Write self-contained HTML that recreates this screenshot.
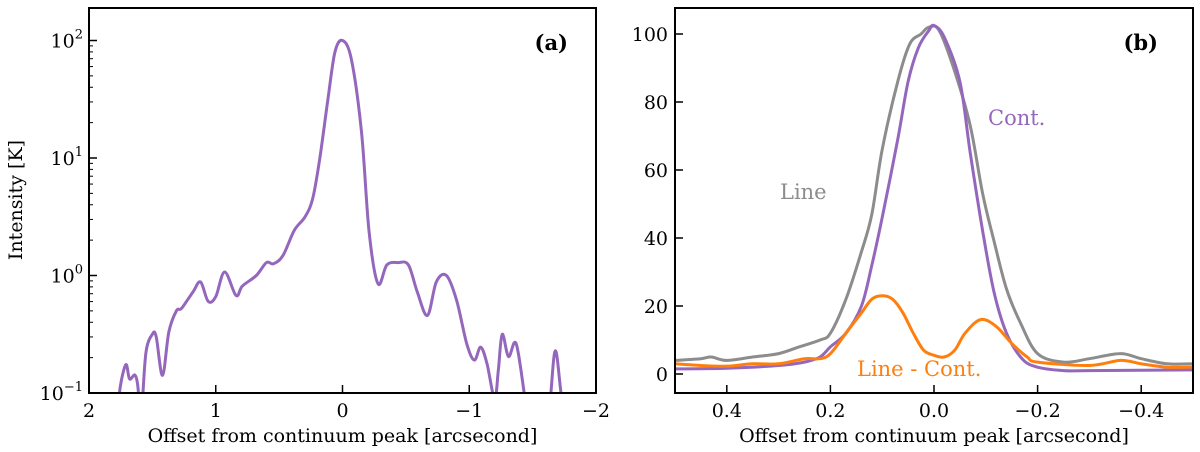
<!DOCTYPE html>
<html><head><meta charset="utf-8">
<style>
html,body{margin:0;padding:0;background:#fff;}
svg{display:block;font-family:"DejaVu Serif","Liberation Serif",serif;}
</style></head>
<body>
<svg id="fig" width="1200" height="452" viewBox="0 0 1200 452">
<g id="pa"></g>
<g id="pb"></g>
</svg>
<script>
// Panel (a) data: offset [arcsec], log10 intensity
const aX = [1.78,1.76,1.71,1.68,1.635,1.61,1.6,1.58,1.55,1.5,1.47,1.42,1.37,1.31,1.27,1.18,1.12,1.06,1.0,0.93,0.84,0.79,0.68,0.60,0.545,0.47,0.38,0.295,0.235,0.18,0.115,0.06,0,-0.07,-0.15,-0.21,-0.28,-0.35,-0.44,-0.52,-0.59,-0.67,-0.74,-0.82,-0.9,-0.98,-1.04,-1.09,-1.14,-1.2,-1.23,-1.26,-1.31,-1.37,-1.44,-1.5,-1.6,-1.64,-1.68,-1.73,-1.8,-1.85];
const aLog = [-1.4,-1.0,-0.76,-0.88,-0.85,-1.0,-1.4,-1.1,-0.65,-0.5,-0.52,-0.85,-0.48,-0.3,-0.28,-0.14,-0.055,-0.22,-0.18,0.03,-0.17,-0.09,0.0,0.11,0.1,0.17,0.385,0.5,0.655,0.99,1.5,1.9,2.0,1.84,1.22,0.37,-0.07,0.09,0.11,0.09,-0.14,-0.34,-0.055,0.0,-0.21,-0.58,-0.72,-0.61,-0.75,-1.05,-0.8,-0.5,-0.69,-0.58,-1.05,-1.5,-1.5,-1.05,-0.64,-1.05,-1.5,-1.5];
const aXTicks = [2,1,0,-1,-2];
const aYTicks = [-1,0,1,2];
// Panel (b) data
const bContX = [0.5,0.4,0.3,0.25,0.22,0.2,0.17,0.14,0.12,0.1,0.07,0.05,0.03,0.01,0,-0.02,-0.05,-0.07,-0.094,-0.116,-0.14,-0.17,-0.2,-0.25,-0.3,-0.5];
const bContY = [1.5,1.7,2.5,3.5,5,8,12,20,32,46,69,86,96,101,102.5,99,86,65,42,24,12,4.5,2,1,1,1.2];
const bLineX = [0.5,0.45,0.43,0.4,0.35,0.3,0.26,0.22,0.2,0.17,0.14,0.12,0.1,0.07,0.047,0.025,0.01,-0.01,-0.04,-0.07,-0.094,-0.116,-0.14,-0.167,-0.2,-0.25,-0.3,-0.36,-0.4,-0.45,-0.5];
const bLineY = [4,4.5,5,4,5,6,8,10,12,22,36,47,66,86,97,100,102,101,89,73,53,39,25,15,6,3.5,4.5,6,4.5,3,3];
const bDiffX = [0.5,0.45,0.4,0.35,0.3,0.25,0.22,0.2,0.17,0.14,0.12,0.1,0.08,0.06,0.04,0.02,0,-0.02,-0.04,-0.06,-0.09,-0.12,-0.15,-0.18,-0.2,-0.3,-0.36,-0.4,-0.45,-0.5];
const bDiffY = [3,2.5,2.3,3,3,4.5,4.5,6,12,18,22,23,22,18,12,7,5.5,5,7,12,16,14,9,5,3.5,2.5,4,3,2,2];
const bXTicks = [0.4,0.2,0.0,-0.2,-0.4];
const bYTicks = [0,20,40,60,80,100];

const NS="http://www.w3.org/2000/svg";
function mk(parent,tag,attrs,text){const e=document.createElementNS(NS,tag);for(const k in attrs)e.setAttribute(k,attrs[k]);if(text!==undefined)e.textContent=text;parent.appendChild(e);return e;}
function smooth(pts){let d=`M${pts[0][0]},${pts[0][1]}`;for(let i=0;i<pts.length-1;i++){const p0=pts[Math.max(0,i-1)],p1=pts[i],p2=pts[i+1],p3=pts[Math.min(pts.length-1,i+2)];const c1=[p1[0]+(p2[0]-p0[0])/6,p1[1]+(p2[1]-p0[1])/6],c2=[p2[0]-(p3[0]-p1[0])/6,p2[1]-(p3[1]-p1[1])/6];d+=` C${c1[0]},${c1[1]} ${c2[0]},${c2[1]} ${p2[0]},${p2[1]}`;}return d;}

// Panel a
const A={l:89,r:596,t:8,b:393};
const axX=v=>A.l+(2-v)/4*(A.r-A.l);
const axY=v=>A.b-(v+1)*117.5;
const pa=document.getElementById('pa');
const cpa=mk(mk(pa,'defs',{}),'clipPath',{id:'ca'});mk(cpa,'rect',{x:A.l,y:A.t,width:A.r-A.l,height:A.b-A.t});
const ca=mk(pa,'path',{d:smooth(aX.map((x,i)=>[axX(x),axY(aLog[i])])),fill:'none',stroke:'#9467bd','stroke-width':3,'clip-path':'url(#ca)'});


mk(pa,'rect',{x:A.l,y:A.t,width:A.r-A.l,height:A.b-A.t,fill:'none',stroke:'#000','stroke-width':2,});
aXTicks.forEach(v=>{const x=axX(v);mk(pa,'line',{x1:x,x2:x,y1:A.b,y2:A.b-8,stroke:'#000','stroke-width':1.5});
 const t=mk(pa,'text',{x:x,y:A.b+24,'text-anchor':'middle','font-size':19},v<0?'\u2212'+(-v):String(v));});
aYTicks.forEach(v=>{const y=axY(v);mk(pa,'line',{x1:A.l,x2:A.l+8,y1:y,y2:y,stroke:'#000','stroke-width':1.5});
 const t=mk(pa,'text',{x:A.l-6,y:y+7,'text-anchor':'end','font-size':19},'10');
 mk(t,'tspan',{dy:-9,'font-size':13},v<0?'\u22121':String(v));
 if(v<2)for(let m=2;m<=9;m++){const yy=axY(v+Math.log10(m));mk(pa,'line',{x1:A.l,x2:A.l+4,y1:yy,y2:yy,stroke:'#000','stroke-width':1});}});
mk(pa,'text',{x:(A.l+A.r)/2,y:442,'text-anchor':'middle','font-size':19,},'Offset from continuum peak [arcsecond]');
mk(pa,'text',{x:22,y:200,'text-anchor':'middle','font-size':19,transform:'rotate(-90 22 200)',},'Intensity [K]');
mk(pa,'text',{x:568,y:50,'text-anchor':'end','font-size':21,'font-weight':'bold',},'(a)');

// Panel b
const B={l:675,r:1193,t:8,b:393};
const bxX=v=>B.l+(0.5-v)*(B.r-B.l);
const byY=v=>374-v*3.4;
const pb=document.getElementById('pb');
const cp=mk(mk(pb,'defs',{}),'clipPath',{id:'cb'});mk(cp,'rect',{x:B.l,y:B.t,width:B.r-B.l,height:B.b-B.t});
const series=[[bLineX,bLineY,'#8c8c8c','line-profile'],[bContX,bContY,'#9467bd','continuum-profile'],[bDiffX,bDiffY,'#ff7f0e','line-minus-continuum-profile']];
series.forEach(s=>{const p=mk(pb,'path',{d:smooth(s[0].map((x,i)=>[bxX(x),byY(s[1][i])])),fill:'none',stroke:s[2],'stroke-width':3,'clip-path':'url(#cb)'});
 
 });
mk(pb,'rect',{x:B.l,y:B.t,width:B.r-B.l,height:B.b-B.t,fill:'none',stroke:'#000','stroke-width':2,});
bXTicks.forEach(v=>{const x=bxX(v);mk(pb,'line',{x1:x,x2:x,y1:B.b,y2:B.b-8,stroke:'#000','stroke-width':1.5});
 const t=mk(pb,'text',{x:x,y:B.b+24,'text-anchor':'middle','font-size':19},(v<0?'\u2212':'')+Math.abs(v).toFixed(1));});
bYTicks.forEach(v=>{const y=byY(v);mk(pb,'line',{x1:B.l,x2:B.l+8,y1:y,y2:y,stroke:'#000','stroke-width':1.5});
 const t=mk(pb,'text',{x:B.l-7,y:y+7,'text-anchor':'end','font-size':19},String(v));});
mk(pb,'text',{x:(B.l+B.r)/2,y:442,'text-anchor':'middle','font-size':19,},'Offset from continuum peak [arcsecond]');
mk(pb,'text',{x:1158,y:50,'text-anchor':'end','font-size':21,'font-weight':'bold',},'(b)');
mk(pb,'text',{x:780,y:199,'font-size':21,fill:'#8c8c8c',},'Line');
mk(pb,'text',{x:988,y:125,'font-size':21,fill:'#9467bd',},'Cont.');
mk(pb,'text',{x:857,y:376,'font-size':21,fill:'#ff7f0e',},'Line - Cont.');
</script>
</body></html>
